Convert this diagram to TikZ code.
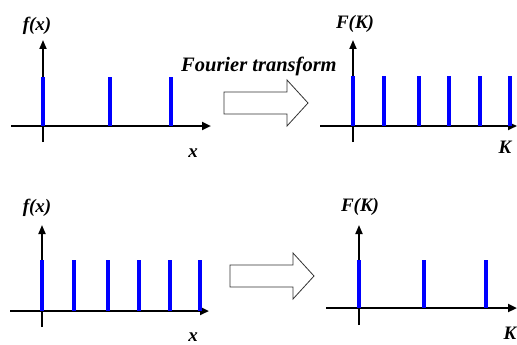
\documentclass[tikz,border=0pt]{standalone}
\usepackage{fontspec}
\setmainfont{Liberation Serif}
\usetikzlibrary{arrows.meta}
\begin{document}
\begin{tikzpicture}[x=1pt,y=-1pt,
  haxis/.style={line width=2.6pt,-{Triangle[length=9pt,width=8pt]}},
  vaxis/.style={line width=1.8pt,-{Triangle[length=9pt,width=7pt]}},
  spike/.style={line width=3.4pt,blue},
  lbl/.style={font=\bfseries\itshape\fontsize{19}{19}\selectfont,inner sep=0pt},
  ftlbl/.style={font=\bfseries\itshape\fontsize{20.5}{20.5}\selectfont,inner sep=0pt},
  bigarrow/.style={draw=black!80,line width=0.8pt,fill=white}]
\useasboundingbox (0,0) rectangle (517,345);
% ---------- top left ----------
\draw[haxis] (11,126) -- (211,126);
\draw[vaxis] (43,142) -- (43,40);
\draw[spike] (43,126) -- (43,77) (110,126) -- (110,77) (171,126) -- (171,77);
\node[lbl] (tlf) at (37,26) {f(x)};
\node[lbl] (tlx) at (193,153) {x};
% ---------- top right ----------
\draw[haxis] (320,126) -- (517,126);
\draw[vaxis] (353,142) -- (353,40);
\draw[spike] (353,126) -- (353,76) (384,126) -- (384,76) (419,126) -- (419,76)
  (449,126) -- (449,76) (480,126) -- (480,76) (510,126) -- (510,76);
\node[lbl] (trF) at (355,24) {F(K)};
\node[lbl] (trK) at (505,147) {K};
% ---------- top transform arrow ----------
\node[ftlbl,anchor=base west] (ft) at (181,72) {Fourier transform};
\draw[bigarrow] (224,92) -- (287,92) -- (287,80) -- (308,103) -- (287,126) -- (287,114) -- (224,114) -- cycle;
% ---------- bottom left ----------
\draw[haxis] (10,311) -- (209,311);
\draw[vaxis] (42,327) -- (42,225);
\draw[spike] (42,311) -- (42,260) (74,311) -- (74,260) (108,311) -- (108,260)
  (139,311) -- (139,260) (170,311) -- (170,260) (200,311) -- (200,260);
\node[lbl] (blf) at (37,208) {f(x)};
\node[lbl] (blx) at (193,337) {x};
% ---------- bottom right ----------
\draw[haxis] (326,308) -- (517,308);
\draw[vaxis] (359,325) -- (359,225);
\draw[spike] (359,308) -- (359,260) (424,308) -- (424,260) (486,308) -- (486,260);
\node[lbl] (brF) at (360,207) {F(K)};
\node[lbl] (brK) at (510,333) {K};
% ---------- bottom arrow ----------
\draw[bigarrow] (230,265) -- (293,265) -- (293,253) -- (314,276) -- (293,299) -- (293,287) -- (230,287) -- cycle;
\end{tikzpicture}
\end{document}
